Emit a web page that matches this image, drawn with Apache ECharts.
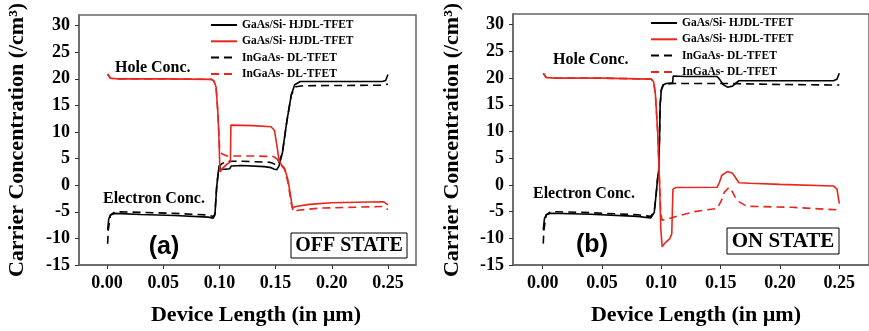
<!DOCTYPE html>
<html><head><meta charset="utf-8">
<script src="https://cdn.jsdelivr.net/npm/echarts@6/dist/echarts.min.js"></script>
<style>html,body{margin:0;padding:0;background:#fff}#c{width:869px;height:331px}</style>
</head><body><div id="c"></div>
<script>
// ---- data ----
const xTicks = [0, 0.05, 0.10, 0.15, 0.20, 0.25];
const yTicks = [-15, -10, -5, 0, 5, 10, 15, 20, 25, 30];
const seriesNames = ['GaAs/Si- HJDL-TFET', 'GaAs/Si- HJDL-TFET ', 'InGaAs- DL-TFET', 'InGaAs- DL-TFET '];

// OFF state
const offBlackSolid = [[0.0005,-8.4],[0.0015,-6.3],[0.003,-5.6],[0.007,-5.3],[0.03,-5.5],[0.06,-5.7],[0.09,-6.0],[0.0945,-6.2],[0.096,-5.6],[0.0975,-0.5],[0.099,2.5],[0.1,3.8],[0.101,3.0],[0.105,3.0],[0.109,3.1],[0.1105,3.6],[0.12,3.7],[0.14,3.5],[0.146,3.3],[0.149,3.0],[0.151,2.9],[0.153,3.6],[0.156,6],[0.16,12],[0.164,17],[0.167,18.9],[0.172,19.5],[0.2,19.5],[0.245,19.5],[0.248,19.7],[0.25,20.8]];
const offBlackDashed = [[0.0005,-11],[0.001,-8.5],[0.003,-5.6],[0.007,-5.0],[0.03,-5.1],[0.06,-5.3],[0.09,-5.6],[0.0945,-5.9],[0.096,-5.4],[0.0975,-0.5],[0.099,2.5],[0.1,3.6],[0.102,4.0],[0.106,4.5],[0.12,4.5],[0.145,4.3],[0.149,4.0],[0.152,3.8],[0.156,6],[0.16,12],[0.164,17],[0.168,18.5],[0.175,18.7],[0.245,18.8],[0.25,19.0]];
const offRedSolid = [[0.0005,20.9],[0.003,20.1],[0.01,20.0],[0.05,20.0],[0.093,19.9],[0.095,19.6],[0.097,18.5],[0.0985,14],[0.0995,9.5],[0.1005,2.5],[0.103,3.2],[0.107,4.0],[0.1098,4.4],[0.1102,11.3],[0.13,11.2],[0.146,11.0],[0.149,10.3],[0.1515,7],[0.153,4.8],[0.155,3.9],[0.158,3.2],[0.161,1.0],[0.163,-1.5],[0.165,-4.3],[0.168,-4.0],[0.18,-3.6],[0.2,-3.3],[0.246,-3.1],[0.25,-3.7]];
const offRedDashed = [[0.0005,20.9],[0.003,20.1],[0.01,20.0],[0.05,20.0],[0.093,19.9],[0.095,19.6],[0.097,18.5],[0.0985,14],[0.0995,10],[0.1003,6.3],[0.103,5.8],[0.107,5.5],[0.13,5.5],[0.148,5.4],[0.151,5.0],[0.154,4.0],[0.158,3.0],[0.161,0.5],[0.164,-3.5],[0.166,-5.0],[0.17,-4.7],[0.19,-4.3],[0.246,-4.0],[0.25,-4.6]];

// ON state
const onBlackSolid = [[0.0005,-8.4],[0.0015,-6.3],[0.003,-5.6],[0.007,-5.3],[0.04,-5.5],[0.08,-5.9],[0.091,-6.2],[0.0925,-6.0],[0.094,-5.2],[0.0955,-2],[0.097,1.5],[0.0978,2.8],[0.0985,9],[0.099,15],[0.1,17.8],[0.1013,18.7],[0.104,19.0],[0.1095,19.1],[0.11,20.4],[0.12,20.3],[0.147,20.3],[0.149,19.8],[0.152,18.8],[0.1557,18.3],[0.16,18.5],[0.163,19.1],[0.1654,19.5],[0.2,19.5],[0.245,19.5],[0.248,19.8],[0.25,20.9]];
const onBlackDashed = [[0.0005,-11],[0.001,-8.5],[0.003,-5.6],[0.007,-5.0],[0.04,-5.2],[0.08,-5.6],[0.091,-5.9],[0.0925,-5.7],[0.094,-5.0],[0.0955,-2],[0.097,1.5],[0.0978,2.8],[0.0985,9],[0.099,15],[0.1,17.8],[0.102,18.8],[0.11,19.0],[0.15,19.0],[0.2,18.8],[0.25,18.7]];
const onRedSolid = [[0.0005,20.9],[0.003,20.1],[0.01,20.0],[0.05,20.0],[0.0915,19.8],[0.0935,19.3],[0.095,17],[0.097,9.6],[0.0985,0.3],[0.0995,-8],[0.1007,-11.6],[0.103,-10.9],[0.107,-10.1],[0.1088,-9.2],[0.1095,-3],[0.1098,-0.8],[0.112,-0.5],[0.147,-0.45],[0.149,0.5],[0.151,1.8],[0.1557,2.5],[0.16,2.2],[0.163,1.2],[0.1654,0.4],[0.175,0.3],[0.2,0.1],[0.245,-0.2],[0.248,-0.8],[0.25,-3.5]];
const onRedDashed = [[0.0005,20.9],[0.003,20.1],[0.01,20.0],[0.05,20.0],[0.0915,19.8],[0.0935,19.3],[0.095,17],[0.097,9.6],[0.0985,0.3],[0.0995,-5],[0.1005,-6.6],[0.104,-6.5],[0.111,-6.0],[0.128,-5.0],[0.147,-4.4],[0.1505,-3],[0.153,-1.4],[0.157,-0.45],[0.159,-0.9],[0.162,-2.2],[0.165,-3.1],[0.172,-4.0],[0.21,-4.2],[0.25,-4.7]];

// ---- chart ----
const SERIF = 'Liberation Serif';
const RED = '#e8261e';
const chart = echarts.init(document.getElementById('c'), null, {renderer: 'canvas'});

function xAx(gi) {
  return {
    type: 'value', gridIndex: gi, min: -0.025, max: 0.275,
    axisLine: {show: true, onZero: false, lineStyle: {color: '#666', width: 1.5}},
    axisTick: {show: true, length: 4, customValues: xTicks, lineStyle: {color: '#333'}},
    axisLabel: {customValues: xTicks, formatter: v => v.toFixed(2), fontFamily: SERIF, fontWeight: 'bold', fontSize: 18, color: '#000', margin: 9},
    splitLine: {show: false}
  };
}
function yAx(gi) {
  return {
    type: 'value', gridIndex: gi, min: -15, max: 32,
    axisLine: {show: true, onZero: false, lineStyle: {color: '#666', width: 1.5}},
    axisTick: {show: true, length: 4, customValues: yTicks, lineStyle: {color: '#333'}},
    axisLabel: {customValues: yTicks, fontFamily: SERIF, fontWeight: 'bold', fontSize: 18, color: '#000', margin: 9},
    splitLine: {show: false}
  };
}
function ln(name, data, gi, color, dashed) {
  return {
    name, type: 'line', xAxisIndex: gi, yAxisIndex: gi, data, symbol: 'none', showSymbol: false,
    lineStyle: {color, width: 1.6, type: dashed ? [8, 5] : 'solid'}, itemStyle: {color},
    animation: false, z: color === RED ? 3 : 2
  };
}
function legend(left, top) {
  return {
    left, top, orient: 'vertical', itemWidth: 26, itemHeight: 10, itemGap: 4.3, padding: 0,
    data: seriesNames,
    itemStyle: {opacity: 0},
    formatter: n => n.trim(),
    textStyle: {fontFamily: SERIF, fontWeight: 'bold', fontSize: 11.5, color: '#000'}
  };
}
function txt(x, y, text, size, family, align) {
  return {type: 'text', x, y, style: {text, font: 'bold ' + size + 'px "' + family + '"', fill: '#000', textAlign: align || 'left', textVerticalAlign: 'middle'}, z: 10};
}

const option = {
  backgroundColor: '#fff',
  animation: false,
  grid: [
    {left: 79, top: 15, width: 337, height: 250, show: true, borderColor: '#666', borderWidth: 1.5, backgroundColor: 'transparent'},
    {left: 513, top: 14, width: 359, height: 251, show: true, borderColor: '#666', borderWidth: 1.5, backgroundColor: 'transparent'}
  ],
  xAxis: [xAx(0), xAx(1)],
  yAxis: [yAx(0), yAx(1)],
  legend: [legend(210, 19), legend(650, 17)],
  series: [
    ln(seriesNames[0], offBlackSolid, 0, '#000', false),
    ln(seriesNames[2], offBlackDashed, 0, '#000', true),
    ln(seriesNames[1], offRedSolid, 0, RED, false),
    ln(seriesNames[3], offRedDashed, 0, RED, true),
    ln(seriesNames[0], onBlackSolid, 1, '#000', false),
    ln(seriesNames[2], onBlackDashed, 1, '#000', true),
    ln(seriesNames[1], onRedSolid, 1, RED, false),
    ln(seriesNames[3], onRedDashed, 1, RED, true)
  ],
  graphic: [
    {type: 'text', x: 17, y: 140, rotation: Math.PI / 2, style: {text: 'Carrier Concentration (/cm³)', font: 'bold 22px "' + SERIF + '"', fill: '#000', textAlign: 'center', textVerticalAlign: 'middle'}},
    {type: 'text', x: 452, y: 140, rotation: Math.PI / 2, style: {text: 'Carrier Concentration (/cm³)', font: 'bold 22px "' + SERIF + '"', fill: '#000', textAlign: 'center', textVerticalAlign: 'middle'}},
    txt(256, 315, 'Device Length (in µm)', 22, SERIF, 'center'),
    txt(696, 315, 'Device Length (in µm)', 22, SERIF, 'center'),
    txt(115, 68, 'Hole Conc.', 16, SERIF),
    txt(103, 199, 'Electron Conc.', 16, SERIF),
    txt(553, 60, 'Hole Conc.', 16, SERIF),
    txt(533, 194, 'Electron Conc.', 16, SERIF),
    txt(164, 247, '(a)', 25, 'Liberation Sans', 'center'),
    txt(592, 245, '(b)', 25, 'Liberation Sans', 'center'),
    {type: 'rect', shape: {x: 291, y: 233, width: 116, height: 25}, style: {fill: '#fff', stroke: '#000', lineWidth: 1}, z: 9},
    txt(349, 246, 'OFF STATE', 20, SERIF, 'center'),
    {type: 'rect', shape: {x: 727, y: 228, width: 112, height: 26}, style: {fill: '#fff', stroke: '#000', lineWidth: 1}, z: 9},
    txt(783, 241.5, 'ON STATE', 21, SERIF, 'center')
  ]
};
chart.setOption(option);
</script>
</body></html>
